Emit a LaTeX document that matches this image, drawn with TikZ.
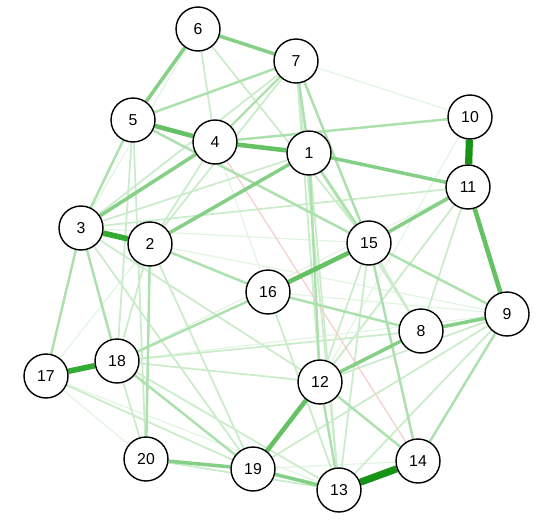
\documentclass[tikz,border=0pt]{standalone}
\usepackage{fontspec}
\setmainfont{Liberation Sans}
\usepackage{tikz}
\pgfdeclarelayer{edges}
\pgfsetlayers{edges,main}
\definecolor{pos7}{RGB}{22,148,22}
\definecolor{pos6}{RGB}{52,172,52}
\definecolor{pos5}{RGB}{100,193,100}
\definecolor{pos4}{RGB}{134,207,134}
\definecolor{pos3}{RGB}{172,224,172}
\definecolor{pos2}{RGB}{202,236,202}
\definecolor{pos1}{RGB}{226,245,226}
\definecolor{neg1}{RGB}{246,205,205}

\begin{document}
\begin{tikzpicture}[x=0.02cm, y=-0.02cm,
		vert/.style={circle, draw, fill=white, line width=0.8pt, minimum size=0.88cm, inner sep=0pt, font=\fontsize{9}{9}\selectfont},
		e7/.style={line width=4.1pt, color=pos7},
		e6/.style={line width=3.2pt, color=pos6},
		e5/.style={line width=2.6pt, color=pos5},
		e4/.style={line width=2pt, color=pos4},
		e3/.style={line width=1.4pt, color=pos3},
		e2/.style={line width=1pt, color=pos2},
		e1/.style={line width=0.7pt, color=pos1},
		eneg/.style={line width=0.7pt, color=neg1}]
			%%%%% START %%%%%
			
			\useasboundingbox (0, 0) rectangle (550, 524);
			
			\node[vert] (n1) at (309, 153) {1};
			\node[vert] (n2) at (150, 244) {2};
			\node[vert] (n3) at (81, 228) {3};
			\node[vert] (n4) at (215, 142) {4};
			\node[vert] (n5) at (133, 120) {5};
			\node[vert] (n6) at (198, 29) {6};
			\node[vert] (n7) at (296, 61) {7};
			\node[vert] (n8) at (421, 331) {8};
			\node[vert] (n9) at (507, 314) {9};
			\node[vert] (n10) at (470, 117) {10};
			\node[vert] (n11) at (468, 187) {11};
			\node[vert] (n12) at (320, 382) {12};
			\node[vert] (n13) at (339, 490) {13};
			\node[vert] (n14) at (418, 461) {14};
			\node[vert] (n15) at (369, 243) {15};
			\node[vert] (n16) at (268, 292) {16};
			\node[vert] (n17) at (46, 376) {17};
			\node[vert] (n18) at (117, 361) {18};
			\node[vert] (n19) at (253, 469) {19};
			\node[vert] (n20) at (146, 459) {20};
			
			\begin{pgfonlayer}{edges}
			% faint ones first
			\foreach \a/\b in {7/10, 17/20, 10/12, 11/19, 2/9, 3/15, 17/13, 4/16, 18/9, 11/18, 17/2, 6/3, 14/19, 9/16}
				\draw[e1] (n\a) -- (n\b);
			\foreach \a/\b in {6/4, 6/15, 7/3, 7/2, 7/12, 1/13, 15/13, 15/12, 15/8, 11/8, 11/12, 9/13, 9/19, 9/12, 18/20, 5/18, 5/20, 3/19, 17/19, 18/8, 18/12, 16/13, 2/18, 3/12, 11/3, 1/8, 4/2, 1/3, 20/13, 18/13, 7/13, 2/19}
				\draw[e2] (n\a) -- (n\b);
			\draw[eneg] (n4) -- (n14);
			\foreach \a/\b in {5/7, 5/3, 2/16, 16/18, 16/8, 15/9, 12/13, 12/14, 9/14, 3/18, 3/17, 2/20, 7/4, 4/10, 5/15, 18/19, 15/14, 1/12, 7/15, 1/15, 7/1}
				\draw[e3] (n\a) -- (n\b);
			\foreach \a/\b in {1/11, 6/7, 6/5, 3/4, 2/1, 11/15, 8/9, 12/8, 20/19, 19/13}
				\draw[e4] (n\a) -- (n\b);
			\foreach \a/\b in {12/19, 16/15, 5/4, 4/1, 11/9}
				\draw[e5] (n\a) -- (n\b);
			\draw[e6] (n3) -- (n2);
			\draw[e6] (n17) -- (n18);
			\draw[e7] (n10) -- (n11);
			\draw[e7] (n13) -- (n14);
			\end{pgfonlayer}
			
			%%%%% END %%%%%
		\end{tikzpicture}
\end{document}
